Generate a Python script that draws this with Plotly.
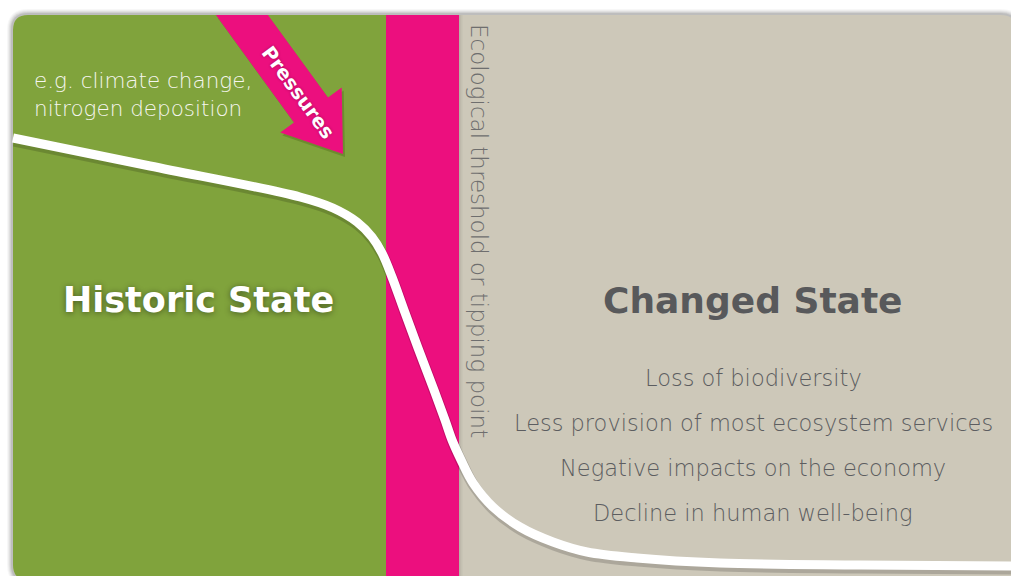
import plotly.graph_objects as go
import numpy as np

# ---------------- data ----------------
curve_x = [13, 150, 300, 333, 357, 372, 382, 392, 404, 418, 434, 445, 452, 461, 473, 493, 520, 553, 587, 637, 720, 860, 1011]
curve_y = [138, 166, 197, 208, 222, 237, 253, 277, 310, 348, 390, 420, 440, 460, 483, 507, 527, 542, 552, 558, 563, 565, 566]

region_labels = ["Historic State", "Changed State"]
pressure_label = "Pressures"
pressure_examples = ["e.g. climate change,", "nitrogen deposition"]
threshold_label = "Ecological threshold or tipping point"
changed_effects = [
    "Loss of biodiversity",
    "Less provision of most ecosystem services",
    "Negative impacts on the economy",
    "Decline in human well-being",
]

W, H = 1011, 576
GREEN = "#80a33c"
PINK = "#ec0f7e"
BEIGE = "#cdc8b9"
DARK = "#58595b"
MID = "#5c5d60"


def rrect(x0, y0, x1, y1, r):
    return (f"M {x0+r},{y0} L {x1-r},{y0} Q {x1},{y0} {x1},{y0+r} "
            f"L {x1},{y1-r} Q {x1},{y1} {x1-r},{y1} L {x0+r},{y1} "
            f"Q {x0},{y1} {x0},{y1-r} L {x0},{y0+r} Q {x0},{y0} {x0+r},{y0} Z")


def left_rounded(x0, y0, x1, y1, r):
    return (f"M {x0+r},{y0} L {x1},{y0} L {x1},{y1} L {x0+r},{y1} "
            f"Q {x0},{y1} {x0},{y1-r} L {x0},{y0+r} Q {x0},{y0} {x0+r},{y0} Z")


shapes = []
for i, a in enumerate([0.03, 0.04, 0.05, 0.07, 0.09]):
    g = 6 - i
    shapes.append(dict(type="path", path=rrect(13 - g, 15 - g, 1016 + g, 580 + g, 15 + g),
                       fillcolor=f"rgba(0,0,0,{a})", line=dict(width=0), layer="below"))
PX0, PY0, PX1, PY1, R = 13, 15, 1016, 580, 15
shapes.append(dict(type="path", path=rrect(PX0, PY0, PX1, PY1, R), fillcolor=BEIGE,
                   line=dict(width=0), layer="below"))
shapes.append(dict(type="path", path=left_rounded(PX0, PY0, 386, PY1, R), fillcolor=GREEN,
                   line=dict(width=0), layer="below"))
for i, a in enumerate([0.10, 0.07, 0.04, 0.02]):
    shapes.append(dict(type="rect", x0=459 + i, x1=460 + i, y0=PY0, y1=PY1,
                       fillcolor=f"rgba(0,0,0,{a})", line=dict(width=0), layer="below"))
shapes.append(dict(type="rect", x0=386, x1=459, y0=PY0, y1=PY1, fillcolor=PINK,
                   line=dict(width=0), layer="below"))

# Pressures arrow
tip = np.array([343.0, 154.0])
base = np.array([311.0, 110.0])
u = (tip - base) / np.linalg.norm(tip - base)
n = np.array([u[1], -u[0]])
hw_shaft, hw_head = 21.0, 38.0


def at_top(p):
    t = (PY0 - p[1]) / u[1]
    return p + t * u


sl = base - hw_shaft * n
sr = base + hw_shaft * n
pts = [at_top(sl), at_top(sr), sr, base + hw_head * n, tip, base - hw_head * n, sl]
sh_pts = [p + np.array([2, 3]) for p in pts]
shapes.append(dict(type="path", path="M " + " L ".join(f"{p[0]:.1f},{p[1]:.1f}" for p in sh_pts) + " Z",
                   fillcolor="rgba(40,60,0,0.22)", line=dict(width=0), layer="below"))
shapes.append(dict(type="path", path="M " + " L ".join(f"{p[0]:.1f},{p[1]:.1f}" for p in pts) + " Z",
                   fillcolor=PINK, line=dict(width=0), layer="below"))

fig = go.Figure()
fig.add_trace(go.Scatter(x=[x + 1 for x in curve_x], y=[y + 3 for y in curve_y], mode="lines",
                         line=dict(color="rgba(0,0,0,0.16)", width=11, shape="spline", smoothing=1),
                         hoverinfo="skip", showlegend=False))
fig.add_trace(go.Scatter(x=curve_x, y=curve_y, mode="lines",
                         line=dict(color="white", width=9, shape="spline", smoothing=1),
                         hoverinfo="skip", showlegend=False))

ann = []
FONT = "DejaVu Sans"
ann.append(dict(x=198, y=300, text=f"<b>{region_labels[0]}</b>", showarrow=False,
                font=dict(family=FONT, size=35, color="white", shadow="0px 1px 6px rgba(0,0,0,0.45)")))
ann.append(dict(x=753, y=300, text=f"<b>{region_labels[1]}</b>", showarrow=False,
                font=dict(family=FONT, size=36, color=DARK)))
for i, t in enumerate(pressure_examples):
    ann.append(dict(x=32, y=80 + 28 * i, text=t, showarrow=False, xanchor="left",
                    font=dict(family=FONT, size=21.5, color="#f6f6f0", weight=200)))
mid = base - 22 * u
ann.append(dict(x=float(mid[0]), y=float(mid[1]), text=f"<b>{pressure_label}</b>", showarrow=False,
                textangle=float(np.degrees(np.arctan2(u[1], u[0]))),
                font=dict(family=FONT, size=19.5, color="white", shadow="0px 0px 3px rgba(0,0,0,0.3)")))
ann.append(dict(x=479, y=231, text=threshold_label, showarrow=False, textangle=90,
                font=dict(family=FONT, size=23, color="#6e6e6e", weight=200)))
for i, t in enumerate(changed_effects):
    ann.append(dict(x=753, y=378 + 45 * i, text=t, showarrow=False,
                    font=dict(family=FONT, size=22.5, color=MID, weight=200)))

fig.update_layout(
    width=W, height=H, margin=dict(l=0, r=0, t=0, b=0),
    paper_bgcolor="white", plot_bgcolor="white",
    xaxis=dict(range=[0, W], visible=False, fixedrange=True),
    yaxis=dict(range=[H, 0], visible=False, fixedrange=True),
    shapes=shapes, annotations=ann, showlegend=False,
)
fig.write_html("out.html", config={"displayModeBar": False},
               post_script="document.body.style.margin='0';document.body.style.overflow='hidden';")
